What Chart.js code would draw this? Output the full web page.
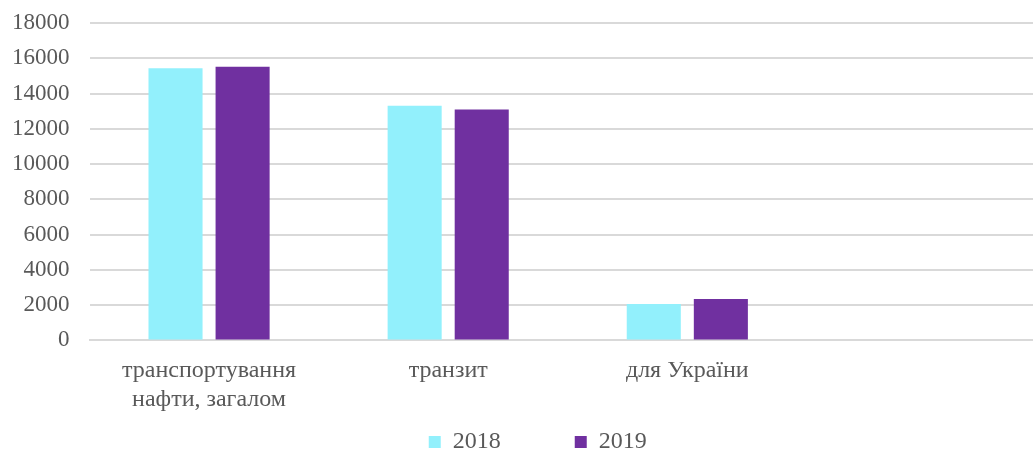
<!DOCTYPE html>
<html>
<head>
<meta charset="utf-8">
<script src="https://cdn.jsdelivr.net/npm/chart.js@4"></script>
<style>
  html, body { margin: 0; padding: 0; background: #fff; overflow: hidden; }
  #wrap { position: relative; width: 1132px; height: 450px; }
</style>
</head>
<body>
<div id="wrap"><canvas id="chart"></canvas></div>
<script>
// Categories (the fourth one is empty in the original)
const categories = [["транспортування", "нафти, загалом"], "транзит", "для України", ""];
// Values per year
const values2018 = [15430, 13310, 2070, null];
const values2019 = [15520, 13100, 2350, null];
const seriesNames = ["2018", "2019"];
// Y axis
const yMin = 0;
const yMax = 18000;
const yStep = 2000;

const textColor = "#595959";
const gridColor = "#d9d9d9";
const serif = "'Liberation Serif', 'Times New Roman', serif";

const ctx = document.getElementById("chart");

let myChart = new Chart(ctx, {
  type: "bar",
  data: {
    labels: categories,
    datasets: [
      {
        label: seriesNames[0],
        data: values2018,
        backgroundColor: "#92f0fc",
        categoryPercentage: 0.561,
        barPercentage: 0.806,
      },
      {
        label: seriesNames[1],
        data: values2019,
        backgroundColor: "#7030a0",
        categoryPercentage: 0.561,
        barPercentage: 0.806,
      },
    ],
  },
  options: {
    responsive: true,
    maintainAspectRatio: false,
    animation: false,
    layout: { padding: { left: -8, right: 86, top: 23, bottom: -14 } },
    scales: {
      x: {
        grid: { display: false },
        border: { color: gridColor, width: 2 },
        ticks: { color: textColor, font: { family: serif, size: 24 }, padding: 8, maxRotation: 0 },
      },
      y: {
        min: yMin,
        max: yMax,
        border: { display: false },
        grid: { color: gridColor, lineWidth: 2, drawTicks: false },
        ticks: {
          stepSize: yStep,
          color: textColor,
          font: { family: serif, size: 23 },
          padding: 20,
          callback: (v) => String(v),
        },
        // let the top tick label overhang the canvas top like the original
        afterFit: (scale) => { scale.paddingTop = 0; },
      },
    },
    plugins: {
      tooltip: { enabled: false },
      legend: {
        position: "bottom",
        fullSize: false,
        labels: {
          color: textColor,
          font: { family: serif, size: 24 },
          boxWidth: 12,
          boxHeight: 12,
          padding: 8,
          // wide gap between the two entries, like the original
          generateLabels: (chart) => {
            const items = Chart.defaults.plugins.legend.labels.generateLabels(chart);
            items[0].text = items[0].text + "           ";
            items[1].text = items[1].text + "          ";
            return items;
          },
        },
      },
    },
  },
});
</script>
</body>
</html>
